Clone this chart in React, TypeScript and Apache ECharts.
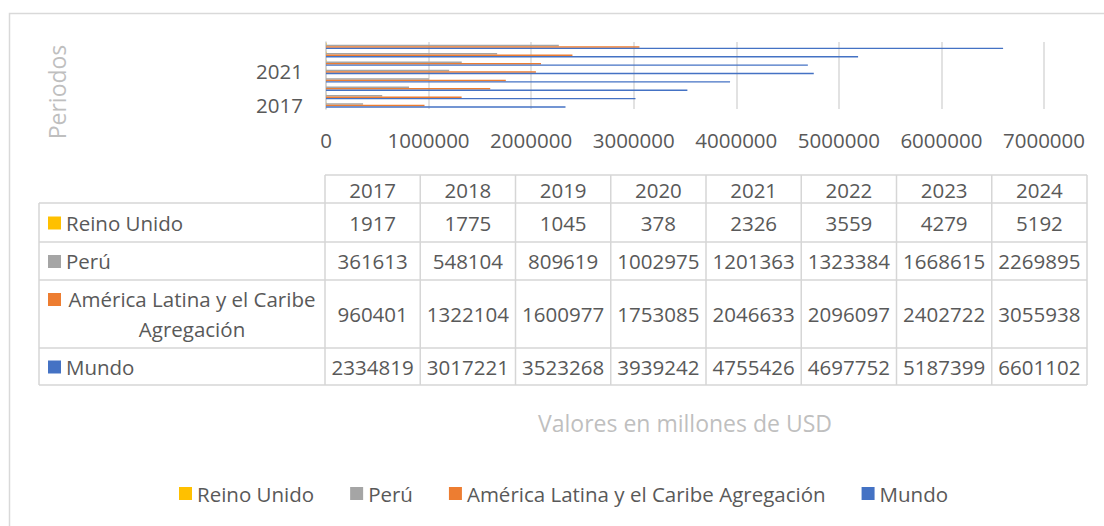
import React, { useEffect, useRef } from "react";
import * as echarts from "echarts";

const categories = ["2017", "2018", "2019", "2020", "2021", "2022", "2023", "2024"];
const seriesNames = ["Reino Unido", "Perú", "América Latina y el Caribe Agregación", "Mundo"];
const reinoUnido = [1917, 1775, 1045, 378, 2326, 3559, 4279, 5192];
const peru = [361613, 548104, 809619, 1002975, 1201363, 1323384, 1668615, 2269895];
const america = [960401, 1322104, 1600977, 1753085, 2046633, 2096097, 2402722, 3055938];
const mundo = [2334819, 3017221, 3523268, 3939242, 4755426, 4697752, 5187399, 6601102];
const seriesColors = ["#FFC000", "#A5A5A5", "#ED7D31", "#4472C4"];
const xTicks = [0, 1000000, 2000000, 3000000, 4000000, 5000000, 6000000, 7000000];

const FONT = '"Open Sans", sans-serif';
const TXT = "#595959";
const GRID = "#d9d9d9";
const FS = 20.5;

function buildTable(values: number[][]) {
  const els: any[] = [];
  const tableLeft = 39;
  const colLeft = 325;
  const colRight = 1087;
  const colW = (colRight - colLeft) / categories.length;
  const headerTop = 175;
  const rowB = [203, 242, 280, 348, 385];
  const line = (x1: number, y1: number, x2: number, y2: number) => ({
    type: "line",
    shape: { x1, y1, x2, y2 },
    style: { stroke: "#d6d6d6", lineWidth: 1.5 },
    silent: true,
  });
  els.push(line(colLeft, headerTop, colRight, headerTop));
  rowB.forEach((y) => els.push(line(tableLeft, y, colRight, y)));
  els.push(line(tableLeft, rowB[0], tableLeft, rowB[rowB.length - 1]));
  for (let i = 0; i <= categories.length; i++) {
    const x = colLeft + i * colW;
    els.push(line(x, headerTop, x, rowB[rowB.length - 1]));
  }
  categories.forEach((c, i) => {
    els.push({
      type: "text",
      x: colLeft + (i + 0.5) * colW,
      y: (headerTop + rowB[0]) / 2 + 0.5,
      style: { text: c, fill: TXT, font: `${FS}px ${FONT}`, textAlign: "center", textVerticalAlign: "middle" },
      silent: true,
    });
  });
  values.forEach((row, r) => {
    const top = rowB[r];
    const bot = rowB[r + 1];
    const cy = (top + bot) / 2;
    row.forEach((v, i) => {
      els.push({
        type: "text",
        x: colLeft + (i + 0.5) * colW,
        y: cy,
        style: { text: String(v), fill: TXT, font: `${FS}px ${FONT}`, textAlign: "center", textVerticalAlign: "middle" },
        silent: true,
      });
    });
    const name = seriesNames[r];
    const wrapped = name.length > 30;
    const lines = wrapped ? [name.slice(0, name.lastIndexOf(" ")), name.slice(name.lastIndexOf(" ") + 1)] : [name];
    const firstY = wrapped ? cy - 15 : cy;
    els.push({
      type: "rect",
      shape: { x: 48, y: firstY - 6, width: 13, height: 13 },
      style: { fill: seriesColors[r] },
      silent: true,
    });
    if (wrapped) {
      els.push({
        type: "text",
        x: 192,
        y: cy,
        style: {
          text: lines.join("\n"),
          fill: TXT,
          font: `${FS}px ${FONT}`,
          textAlign: "center",
          textVerticalAlign: "middle",
          lineHeight: 30,
        },
        silent: true,
      });
    } else {
      els.push({
        type: "text",
        x: 66,
        y: cy,
        style: { text: name, fill: TXT, font: `${FS}px ${FONT}`, textAlign: "left", textVerticalAlign: "middle" },
        silent: true,
      });
    }
  });
  return els;
}

export default function App() {
  const ref = useRef<HTMLDivElement>(null);
  useEffect(() => {
    document.body.style.margin = "0";
    if (!ref.current) return;
    const chart = echarts.init(ref.current, undefined, { renderer: "svg" });
    const data = [reinoUnido, peru, america, mundo];
    const option: any = {
      animation: false,
      backgroundColor: "#ffffff",
      textStyle: { fontFamily: FONT },
      grid: { left: 326, right: 60, top: 42, height: 67, containLabel: false },
      xAxis: {
        type: "value",
        min: xTicks[0],
        max: xTicks[xTicks.length - 1],
        interval: xTicks[1] - xTicks[0],
        axisLine: { show: false },
        axisTick: { show: false },
        splitLine: { show: true, lineStyle: { color: GRID, width: 1.5 } },
        axisLabel: {
          color: TXT,
          fontSize: FS,
          fontFamily: FONT,
          margin: 20,
          formatter: (v: number) => String(v),
        },
      },
      yAxis: {
        type: "category",
        data: categories,
        axisTick: { show: false },
        axisLine: { show: true, lineStyle: { color: "#d0d0d0", width: 1.5 } },
        axisLabel: { color: TXT, fontSize: FS, fontFamily: FONT, margin: 23, interval: 3 },
      },
      legend: {
        data: seriesNames,
        left: 174,
        top: 478,
        icon: "rect",
        itemWidth: 13,
        itemHeight: 13,
        itemGap: 36,
        selectedMode: false,
        textStyle: { color: TXT, fontSize: FS, fontFamily: FONT },
      },
      series: seriesNames.map((n, i) => ({
        name: n,
        type: "bar",
        data: data[i],
        itemStyle: { color: seriesColors[i] },
        barGap: "0%",
        barCategoryGap: "30%",
      })),
      graphic: [
        {
          type: "rect",
          shape: { x: 9.5, y: 13.5, width: 1200, height: 700 },
          style: { fill: "none", stroke: GRID, lineWidth: 1.5 },
          silent: true,
          z: -1,
        },
        {
          type: "text",
          x: 57,
          y: 92,
          rotation: Math.PI / 2,
          style: { text: "Periodos", fill: "#bfbfbf", font: `23px ${FONT}`, textAlign: "center", textVerticalAlign: "middle" },
          silent: true,
        },
        {
          type: "text",
          x: 685,
          y: 423,
          style: { text: "Valores en millones de USD", fill: "#bfbfbf", font: `23px ${FONT}`, textAlign: "center", textVerticalAlign: "middle" },
          silent: true,
        },
        ...buildTable(data),
      ],
    };
    chart.setOption(option);
    return () => chart.dispose();
  }, []);
  return <div ref={ref} style={{ width: 1104, height: 526 }} />;
}
